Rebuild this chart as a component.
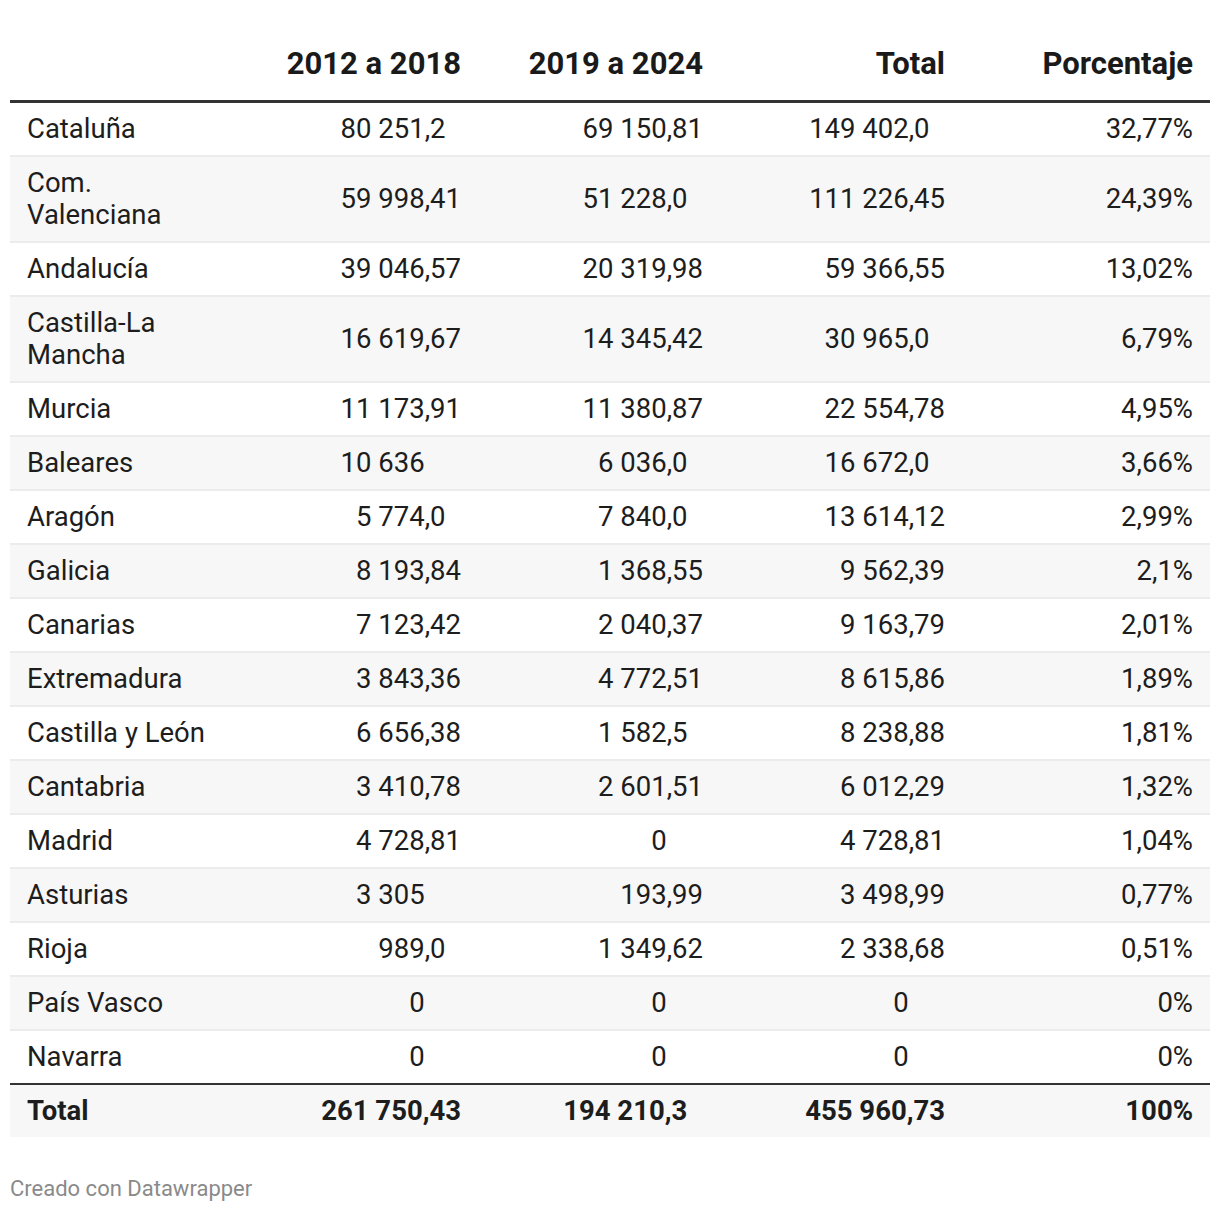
import React from "react";

// Datawrapper-style table: cuantía por comunidad autónoma
const headers = ["", "2012 a 2018", "2019 a 2024", "Total", "Porcentaje"];

const regions = [
  "Cataluña",
  "Com. Valenciana",
  "Andalucía",
  "Castilla-La Mancha",
  "Murcia",
  "Baleares",
  "Aragón",
  "Galicia",
  "Canarias",
  "Extremadura",
  "Castilla y León",
  "Cantabria",
  "Madrid",
  "Asturias",
  "Rioja",
  "País Vasco",
  "Navarra",
];

const period2012 = [
  "80 251,2", "59 998,41", "39 046,57", "16 619,67", "11 173,91", "10 636",
  "5 774,0", "8 193,84", "7 123,42", "3 843,36", "6 656,38", "3 410,78",
  "4 728,81", "3 305", "989,0", "0", "0",
];

const period2019 = [
  "69 150,81", "51 228,0", "20 319,98", "14 345,42", "11 380,87", "6 036,0",
  "7 840,0", "1 368,55", "2 040,37", "4 772,51", "1 582,5", "2 601,51",
  "0", "193,99", "1 349,62", "0", "0",
];

const totals = [
  "149 402,0", "111 226,45", "59 366,55", "30 965,0", "22 554,78", "16 672,0",
  "13 614,12", "9 562,39", "9 163,79", "8 615,86", "8 238,88", "6 012,29",
  "4 728,81", "3 498,99", "2 338,68", "0", "0",
];

const percents = [
  "32,77%", "24,39%", "13,02%", "6,79%", "4,95%", "3,66%", "2,99%", "2,1%",
  "2,01%", "1,89%", "1,81%", "1,32%", "1,04%", "0,77%", "0,51%", "0%", "0%",
];

const totalRow = ["Total", "261 750,43", "194 210,3", "455 960,73", "100%"];

const FONT = "Roboto, 'Noto Sans', Arial, sans-serif";
const TEXT = "#1d1d1d";
const COL_W = [226, 242, 242, 242, 248];
const PAD = 17;

// decimal-aligned number: integer part right aligned, fraction in a fixed slot
function Num({ v }: { v: string }) {
  const i = v.indexOf(",");
  const intPart = i >= 0 ? v.slice(0, i) : v;
  const frac = i >= 0 ? v.slice(i) : "";
  return (
    <span style={{ whiteSpace: "nowrap" }}>
      {intPart}
      <span style={{ display: "inline-block", width: "1.32em", textAlign: "left" }}>{frac}</span>
    </span>
  );
}

function Row({
  cells,
  bg,
  bold,
  borderBottom,
  borderTop,
}: {
  cells: string[];
  bg: string;
  bold?: boolean;
  borderBottom?: string;
  borderTop?: string;
}) {
  return (
    <div
      style={{
        display: "flex",
        alignItems: "center",
        background: bg,
        borderBottom,
        borderTop,
        fontWeight: bold ? 700 : 400,
      }}
    >
      {cells.map((c, k) => (
        <div
          key={k}
          style={{
            width: COL_W[k],
            boxSizing: "border-box",
            padding: k === 0 ? `10px 16px 10px ${PAD}px` : `10px ${bold && k <= 3 ? PAD + 2 : PAD}px 10px 0`,
            textAlign: k === 0 ? "left" : "right",
          }}
        >
          {k >= 1 && k <= 3 ? <Num v={c} /> : c}
        </div>
      ))}
    </div>
  );
}

export default function App() {
  return (
    <div
      style={{
        position: "absolute",
        left: 0,
        top: 0,
        width: 1220,
        height: 1212,
        background: "#fff",
        fontFamily: FONT,
        color: TEXT,
      }}
    >
      <div style={{ position: "absolute", left: 10, top: 35, width: 1200, fontSize: 27.5, lineHeight: "32px" }}>
        <div
          style={{
            display: "flex",
            alignItems: "flex-end",
            height: 68,
            boxSizing: "border-box",
            paddingBottom: 20,
            borderBottom: "3px solid #333",
            fontWeight: 700,
            fontSize: 31,
            color: "#1a1a1a",
          }}
        >
          {headers.map((h, k) => (
            <div
              key={k}
              style={{
                width: COL_W[k],
                boxSizing: "border-box",
                paddingRight: k === 0 ? 0 : PAD,
                textAlign: "right",
              }}
            >
              {h}
            </div>
          ))}
        </div>
        {regions.map((r, i) => (
          <Row
            key={r}
            cells={[r, period2012[i], period2019[i], totals[i], percents[i]]}
            bg={i % 2 === 1 ? "#f7f7f7" : "#ffffff"}
            borderBottom={i < regions.length - 1 ? "2px solid #ececec" : undefined}
          />
        ))}
        <Row cells={totalRow} bg="#f7f7f7" bold borderTop="2px solid #333" />
      </div>
      <div
        style={{
          position: "absolute",
          left: 10,
          top: 1174,
          fontSize: 22,
          lineHeight: "30px",
          color: "#8a8a8a",
        }}
      >
        Creado con Datawrapper
      </div>
    </div>
  );
}
